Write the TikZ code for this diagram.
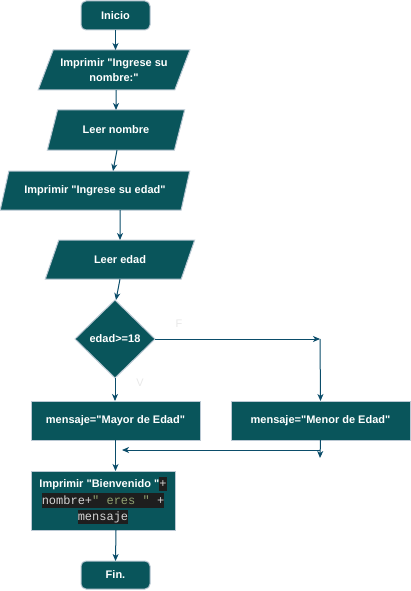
\documentclass[tikz,border=0pt]{standalone}
\usepackage{fontspec}
\setmainfont{Liberation Sans}[Ligatures=TeXOff]
\newfontfamily\cdfont{Liberation Mono}[Ligatures=TeXOff]
\usetikzlibrary{shapes.geometric,arrows.meta}
\definecolor{nodefill}{HTML}{09555B}
\definecolor{nodeline}{HTML}{BAC8D3}
\definecolor{edgecol}{HTML}{0B4D6A}
\definecolor{codebg}{HTML}{1E1E1E}
\definecolor{codefg}{HTML}{D4D4D4}
\definecolor{codestr}{HTML}{8FA070}
\definecolor{lblcol}{HTML}{E8E8E8}
\newcommand\cdbx[1]{{\setlength\fboxsep{0pt}\colorbox{codebg}{\cdfont\mdseries\fontsize{12}{14}\selectfont\rule[-3.5pt]{0pt}{14.5pt}\color{codefg}#1}}}
\begin{document}
\begin{tikzpicture}[x=1pt,y=-1pt,
  base/.style={fill=nodefill,draw=nodeline,line width=1pt,text=white,font=\fontsize{11}{15}\selectfont\bfseries,align=center,inner sep=2pt,outer sep=0pt},
  term/.style={base,rectangle,rounded corners=5pt},
  io/.style={base,trapezium,trapezium left angle=63,trapezium right angle=117,trapezium stretches=true},
  proc/.style={base,rectangle},
  dec/.style={base,diamond,inner sep=0pt},
  edge/.style={draw=edgecol,line width=1pt,-{Stealth[length=7pt,width=6pt,inset=2pt]}},
  lab/.style={text=lblcol,font=\fontsize{11}{13}\selectfont}
]
\useasboundingbox (0,0) rectangle (411,591);
\node[term,minimum width=69,minimum height=29] (inicio) at (115.5,15.5) {Inicio};
\node[io,minimum width=152,minimum height=40] (p1) at (114,70) {Imprimir "Ingrese su\\nombre:"};
\node[io,minimum width=138,minimum height=40] (p2) at (116,130) {Leer nombre};
\node[io,minimum width=190,minimum height=39] (p3) at (95,190.5) {Imprimir "Ingrese su edad"};
\node[io,minimum width=150,minimum height=39] (p4) at (120,259.5) {Leer edad};
\node[dec,minimum width=80,minimum height=78] (d) at (115,339) {edad>=18};
\node[proc,minimum width=169,minimum height=39] (may) at (115.5,420.5) {mensaje="Mayor de Edad"};
\node[proc,minimum width=179,minimum height=39] (men) at (320.5,420.5) {mensaje="Menor de Edad"};
\node[proc,minimum width=144,minimum height=59,font=\fontsize{11}{16.5}\selectfont\bfseries] (bien) at (103,500.5)
  {Imprimir "Bienvenido "\cdbx{+}\\\cdbx{nombre+\textcolor{codestr}{" eres "} +}\\\cdbx{mensaje}};
\node[term,minimum width=69,minimum height=28] (fin) at (115.5,575) {Fin.};
\node[lab] (lf) at (179,324) {F};
\node[lab] (lv) at (140,383) {V};
\coordinate (c1) at (320,339);
\coordinate (c2) at (320,458);
\coordinate (c3) at (320,450);
\coordinate (c4) at (122,450);
\draw[edge] (inicio.south) -- (inicio.south |- p1.north);
\draw[edge] ([xshift=2]p1.south) -- (p2.north);
\draw[edge] ([xshift=1]p2.south) -- ([xshift=18]p3.north);
\draw[edge] ([xshift=25]p3.south) -- (p4.north);
\draw[edge] (p4.south) -- ([xshift=1]d.north);
\draw[edge] (d.south) -- (d.south |- may.north);
\draw[edge] (d.east) -- (c1);
\draw[edge] (c1) -- (men.north);
\draw[edge] (men.south) -- (c2);
\draw[edge] (c3) -- (c4);
\draw[edge] (may.south) -- (may.south |- bien.north);
\draw[edge] ([xshift=13]bien.south) -- (fin.north);
\end{tikzpicture}
\end{document}
